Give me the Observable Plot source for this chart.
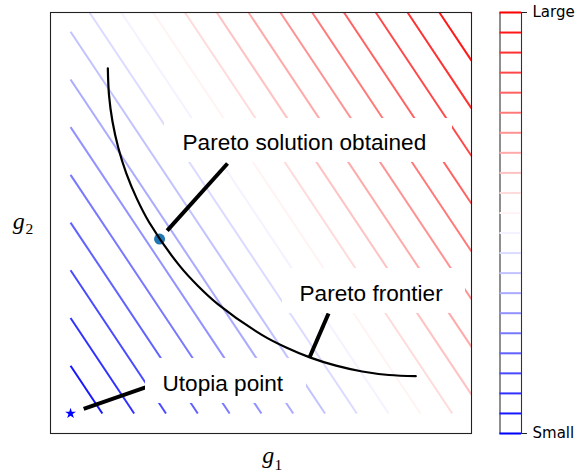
<!DOCTYPE html>
<html>
<head>
<meta charset="utf-8">
<script src="https://cdn.jsdelivr.net/npm/d3@7"></script>
<script src="https://cdn.jsdelivr.net/npm/@observablehq/plot@0.6"></script>
<style>
  html, body { margin: 0; padding: 0; background: #fff; }
  #chart { display: flex; width: 578px; height: 476px; }
  #chart svg { display: block; }
</style>
</head>
<body>
<div id="chart"></div>
<script>
// Weighted-sum objective: weightG1 * g1 + weightG2 * g2
const weightG1 = 1.5;
const weightG2 = 1;

// Contour levels of the objective, smallest first
const levels = [0, 0.119, 0.238, 0.357, 0.476, 0.595, 0.714, 0.833, 0.952, 1.071, 1.190,
                1.309, 1.428, 1.547, 1.666, 1.785, 1.904, 2.023, 2.142, 2.261, 2.380, 2.499];

// Pareto frontier samples
const frontierG1 = [0.093, 0.0959, 0.1047, 0.1192, 0.1393, 0.1650, 0.1959, 0.2727, 0.3179,
                    0.3673, 0.4770, 0.5364, 0.5983, 0.6622, 0.7276, 0.7941, 0.861];
const frontierG2 = [0.861, 0.7941, 0.7276, 0.6622, 0.5983, 0.5364, 0.4770, 0.3673, 0.3179,
                    0.2727, 0.1959, 0.1650, 0.1393, 0.1192, 0.1047, 0.0959, 0.093];

// Pareto solution reached by the weighted sum
const solutionG1 = [0.222];
const solutionG2 = [0.435];

// Utopia point
const utopiaG1 = [0];
const utopiaG2 = [0];

// Point on the frontier the frontier label refers to
const frontierMarkG1 = [0.596];
const frontierMarkG2 = [0.1397];

// Colour bar end labels
const colorbarLabels = ["Small", "Large"];

// ---- derived tables -------------------------------------------------------
const lo = levels[0], hi = levels[levels.length - 1];
const colorScale = {
  type: "linear",
  domain: [lo, (lo + hi) / 2, hi],
  range: ["#0000ff", "#ffffff", "#ff0000"],
  interpolate: "rgb"
};

// Each level line clipped to the unit square of the evaluated grid
const segments = levels
  .filter(L => L > 0 && L < weightG1 + weightG2)
  .map(L => ({
    level: L,
    x1: L <= weightG2 ? 0 : (L - weightG2) / weightG1,
    y1: L <= weightG2 ? L / weightG2 : 1,
    x2: L <= weightG1 ? L / weightG1 : 1,
    y2: L <= weightG1 ? 0 : (L - weightG1) / weightG2
  }));

const frontier = frontierG1.map((g1, i) => ({g1, g2: frontierG2[i]}));

// Annotations: label box, label anchor (left / baseline) and leader line
const notes = [
  {text: "Pareto solution obtained", tx: 0.2793, ty: 0.6559,
   bx1: 0.2344, by1: 0.6259, bx2: 0.9526, by2: 0.7357,
   fx: 0.3915, fy: 0.6234, px: solutionG1[0], py: solutionG2[0], inset: 11.4},
  {text: "Pareto frontier", tx: 0.5711, ty: 0.2793,
   bx1: 0.5287, by1: 0.2494, bx2: 0.985, by2: 0.3616,
   fx: 0.6434, fy: 0.2494, px: frontierMarkG1[0], py: frontierMarkG2[0], inset: 0},
  {text: "Utopia point", tx: 0.2294, ty: 0.0549,
   bx1: 0.187, by1: 0.0249, bx2: 0.5885, by2: 0.1372,
   fx: 0.187, fy: 0.0648, px: utopiaG1[0], py: utopiaG2[0], inset: 13.9}
];

const sans = "'Liberation Sans', Arial, sans-serif";
const serif = "'Liberation Serif', 'Times New Roman', serif";

const main = Plot.plot({
  width: 490,
  height: 476,
  marginLeft: 50,
  marginRight: 19,
  marginTop: 12,
  marginBottom: 43,
  style: {background: "#fff", overflow: "visible"},
  x: {domain: [-0.05, 1.0], axis: null},
  y: {domain: [-0.05, 1.0], axis: null},
  color: colorScale,
  marks: [
    Plot.link(segments, {
      x1: "x1", y1: "y1", x2: "x2", y2: "y2",
      stroke: "level", strokeWidth: 2, strokeLinecap: "butt"
    }),
    Plot.dot(solutionG1.map((g1, i) => ({g1, g2: solutionG2[i]})), {
      x: "g1", y: "g2", r: 5.5, fill: "#1f77b4", stroke: "none"
    }),
    Plot.line(frontier, {
      x: "g1", y: "g2", curve: "catmull-rom", stroke: "black", strokeWidth: 2.2
    }),
    // leader lines, each pulled back from its target by its own inset
    ...notes.map(n => Plot.arrow([n], {
      x1: "fx", y1: "fy", x2: "px", y2: "py",
      insetEnd: n.inset, headLength: 0,
      stroke: "black", strokeWidth: 4, strokeLinecap: "butt"
    })),
    Plot.rect(notes, {x1: "bx1", x2: "bx2", y1: "by1", y2: "by2", fill: "white"}),
    Plot.text(notes, {
      x: "tx", y: "ty", text: "text", textAnchor: "start", lineAnchor: "bottom",
      fontSize: 22.6, fontFamily: sans, fill: "black"
    }),
    Plot.dot(utopiaG1.map((g1, i) => ({g1, g2: utopiaG2[i]})), {
      x: "g1", y: "g2", symbol: "star", r: 3.4, fill: "#0000ff", stroke: "none"
    }),
    // axis titles g1 and g2
    Plot.text(["g"], {frameAnchor: "bottom", textAnchor: "start", lineAnchor: "bottom",
      dx: 1.2, dy: 29, fontSize: 24, fontStyle: "italic", fontFamily: serif}),
    Plot.text(["1"], {frameAnchor: "bottom", textAnchor: "start", lineAnchor: "bottom",
      dx: 13.5, dy: 36.5, fontSize: 15.5, fontFamily: serif}),
    Plot.text(["g"], {frameAnchor: "left", textAnchor: "start", lineAnchor: "bottom",
      dx: -37.7, dy: 5.8, fontSize: 24, fontStyle: "italic", fontFamily: serif}),
    Plot.text(["2"], {frameAnchor: "left", textAnchor: "start", lineAnchor: "bottom",
      dx: -25, dy: 10.8, fontSize: 15.5, fontFamily: serif}),
    Plot.frame({stroke: "#222", strokeWidth: 1.1})
  ]
});

const colorbar = Plot.plot({
  width: 88,
  height: 476,
  marginLeft: 9.5,
  marginRight: 57,
  marginTop: 12,
  marginBottom: 43,
  style: {background: "#fff", overflow: "visible"},
  x: {domain: [0, 1], axis: null},
  y: {domain: [lo, hi], axis: null},
  color: colorScale,
  marks: [
    Plot.frame({stroke: "#333", strokeWidth: 1.1}),
    Plot.ruleY(levels, {y: d => d, stroke: d => d, strokeWidth: 2}),
    Plot.axisY([lo, hi], {
      anchor: "right", label: null, tickSize: 5, tickPadding: 6,
      tickFormat: d => d === lo ? colorbarLabels[0] : colorbarLabels[1],
      fontSize: 15, fontFamily: "'DejaVu Sans', sans-serif", stroke: "#222", fill: "black"
    })
  ]
});

const chart = document.getElementById("chart");
chart.append(main, colorbar);
</script>
</body>
</html>
